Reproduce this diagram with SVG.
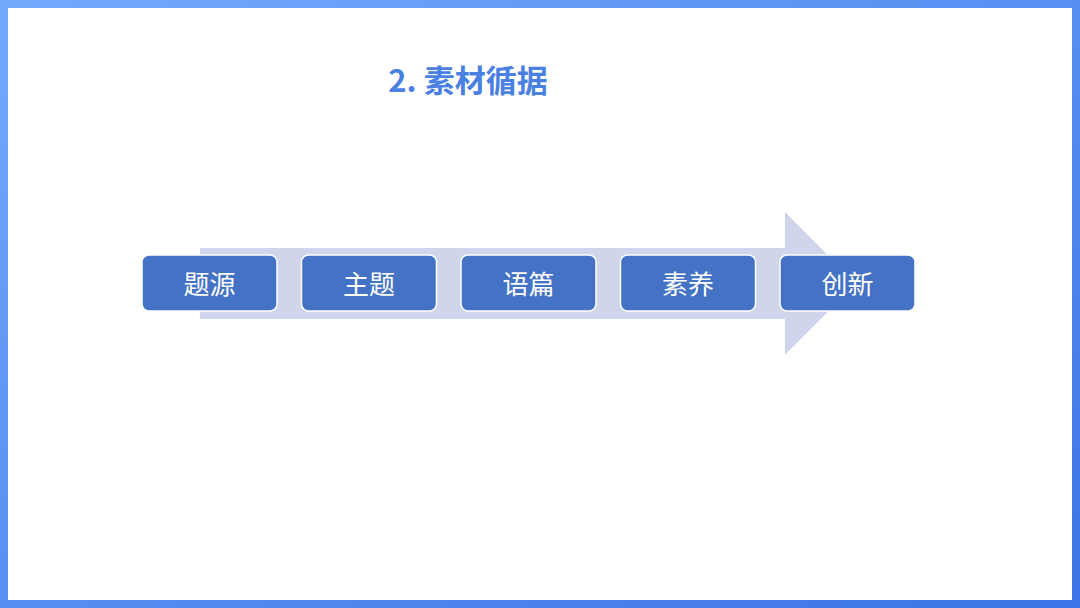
<svg xmlns="http://www.w3.org/2000/svg" width="1080" height="608" viewBox="0 0 1080 608">
<defs>
<linearGradient id="frame" x1="0" y1="0" x2="1" y2="1">
<stop offset="0" stop-color="#74a9fc"/>
<stop offset="1" stop-color="#3b74e6"/>
</linearGradient>
<style>
.box{fill:#4472c4;stroke:#ffffff;stroke-width:1.5}
.lbl{font-family:"Noto Sans CJK SC","Noto Sans",sans-serif;font-size:26px;fill:#ffffff;text-anchor:middle;dominant-baseline:central}
.title{font-family:"Noto Sans CJK SC","Noto Sans",sans-serif;font-size:31px;font-weight:bold;fill:#4a80e2;text-anchor:middle}
</style>
</defs>
<rect x="0" y="0" width="1080" height="608" fill="url(#frame)"/>
<rect x="8" y="8" width="1064" height="592" fill="#ffffff"/>
<text class="title" x="468" y="92">2. 素材循据</text>
<g id="connectors">
<polygon points="200,248 785,248 785,212 856,283.5 785,355 785,319 200,319" fill="#cfd5ea"/>
</g>
<g id="n1"><rect class="box" x="142" y="255" width="135" height="56" rx="7"/><text class="lbl" x="209.5" y="282">题源</text></g>
<g id="n2"><rect class="box" x="301.5" y="255" width="135" height="56" rx="7"/><text class="lbl" x="369" y="282">主题</text></g>
<g id="n3"><rect class="box" x="461" y="255" width="135" height="56" rx="7"/><text class="lbl" x="528.5" y="282">语篇</text></g>
<g id="n4"><rect class="box" x="620.5" y="255" width="135" height="56" rx="7"/><text class="lbl" x="688" y="282">素养</text></g>
<g id="n5"><rect class="box" x="780" y="255" width="135" height="56" rx="7"/><text class="lbl" x="847.5" y="282">创新</text></g>
</svg>
